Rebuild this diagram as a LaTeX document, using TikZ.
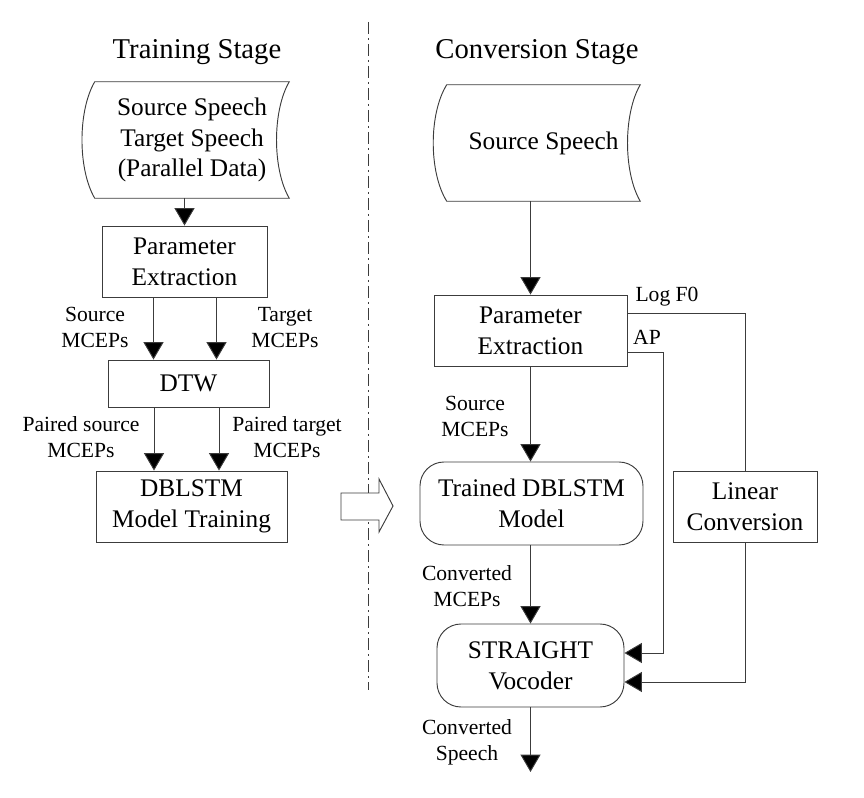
\documentclass[tikz,border=0pt]{standalone}
\usepackage{fontspec}
\setmainfont{Liberation Serif}
\usepackage{xcolor}
\usepackage{tikz}
\usetikzlibrary{arrows.meta, positioning, calc}
\definecolor{edge}{RGB}{60, 60, 60}
\newcommand{\titlefont}{\fontsize{21.5}{25}\selectfont}
\newcommand{\boxfont}{\fontsize{19}{23}\selectfont}
\newcommand{\annotfont}{\fontsize{16.2}{19.5}\selectfont}
\tikzstyle{block} = [rectangle, draw=edge, line width=0.7pt, align=center, inner sep=0pt, font=\boxfont]
\tikzstyle{roundblock} = [block, rounded corners=18pt]
\tikzstyle{store} = [rectangle, align=center, inner sep=0pt, font=\boxfont]
\tikzstyle{annot} = [align=center, inner sep=0pt, font=\annotfont]
\tikzstyle{stage} = [inner sep=0pt, font=\titlefont]
\tikzstyle{wire} = [draw=edge, line width=0.7pt]
\tikzstyle{arrow} = [wire, -{Triangle[length=13pt, width=15pt, fill=black]}]

\begin{document}
\begin{tikzpicture}[x=0.75pt, y=-0.75pt]
    \useasboundingbox (0,0) rectangle (864,798);

    \node[stage] (trtitle) at (197, 52) {Training Stage};
    \node[stage] (cvtitle) at (537, 52) {Conversion Stage};

    % training stage
    \node[store, minimum width=145.5pt, minimum height=87pt] (trdata) at (192, 140) {Source Speech\\Target Speech\\(Parallel Data)};
    \node[block, minimum width=123.75pt, minimum height=53.25pt] (trpe) at (184.5, 261.5) {Parameter\\Extraction};
    \node[block, minimum width=120.75pt, minimum height=35.25pt] (dtw) at (188.5, 383.5) {DTW};
    \node[block, minimum width=143.25pt, minimum height=53.25pt] (trmodel) at (191.5, 506.5) {DBLSTM\\Model Training};

    \node[annot] (srcmc) at (95, 327) {Source\\MCEPs};
    \node[annot] (tgtmc) at (285, 328) {Target\\MCEPs};
    \node[annot] (psrc) at (81, 437) {Paired source\\MCEPs};
    \node[annot] (ptgt) at (287, 437) {Paired target\\MCEPs};

    \draw[wire] (trdata.north west) .. controls +(-17,29) and +(-17,-29) .. (trdata.south west)
        -- (trdata.south east) .. controls +(-17,-29) and +(-17,29) .. (trdata.north east) -- cycle;

    \draw[arrow] (trdata.south -| trpe.north) -- (trpe.north);
    \draw[arrow] ($(trpe.south)+(-31,0)$) coordinate (t1) -- (t1 |- dtw.north);
    \draw[arrow] ($(trpe.south)+(32,0)$) coordinate (t2) -- (t2 |- dtw.north);
    \draw[arrow] ($(dtw.south)+(-34.5,0)$) coordinate (t3) -- (t3 |- trmodel.north);
    \draw[arrow] ($(dtw.south)+(30.5,0)$) coordinate (t4) -- (t4 |- trmodel.north);

    % divider
    \draw[edge, line width=0.6pt, dash pattern=on 9pt off 3pt on 1.5pt off 3pt] (368, 22) -- (368, 690);
    \draw[wire, fill=white] (341,493) -- (379,493) -- (379,479) -- (393,506) -- (379,532) -- (379,520) -- (341,520) -- cycle;

    % conversion stage
    \node[store, minimum width=144.75pt, minimum height=87pt] (cvdata) at (543.5, 143) {Source Speech};
    \node[block, minimum width=144.75pt, minimum height=53.25pt] (cvpe) at (530.5, 330.5) {Parameter\\Extraction};
    \node[roundblock, minimum width=167.25pt, minimum height=62.25pt] (model) at (531.5, 503.5) {Trained DBLSTM\\Model};
    \node[block, minimum width=108pt, minimum height=53.25pt] (linconv) at (745, 506.5) {Linear\\Conversion};
    \node[roundblock, minimum width=140.25pt, minimum height=62.25pt] (vocoder) at (530.5, 665.5) {STRAIGHT\\Vocoder};
    \coordinate (out) at (530.5, 772);

    \node[annot] (cvsrc) at (475, 416) {Source\\MCEPs};
    \node[annot] (cvmc) at (467, 586) {Converted\\MCEPs};
    \node[annot] (cvsp) at (467, 742) {Converted\\Speech};
    \node[annot] (logf0) at (667, 297) {Log F0};
    \node[annot] (ap) at (647, 337) {AP};

    \draw[wire] (cvdata.north west) .. controls +(-18,29) and +(-18,-29) .. (cvdata.south west)
        -- (cvdata.south east) .. controls +(-17,-29) and +(-17,29) .. (cvdata.north east) -- cycle;

    \draw[arrow] (cvdata.south -| cvpe.north) -- (cvpe.north);
    \draw[arrow] (cvpe.south) -- (model.north -| cvpe.south);
    \draw[arrow] (model.south -| vocoder.north) -- (vocoder.north);
    \draw[arrow] (vocoder.south) -- (out);
    \draw[wire] ($(cvpe.east)+(0,-17.5)$) -| (linconv.north);
    \draw[arrow] (linconv.south) |- ($(vocoder.east)+(0,16.5)$);
    \draw[arrow] ($(cvpe.east)+(0,21.5)$) -- ++(36,0) |- ($(vocoder.east)+(0,-12.5)$);
\end{tikzpicture}
\end{document}
